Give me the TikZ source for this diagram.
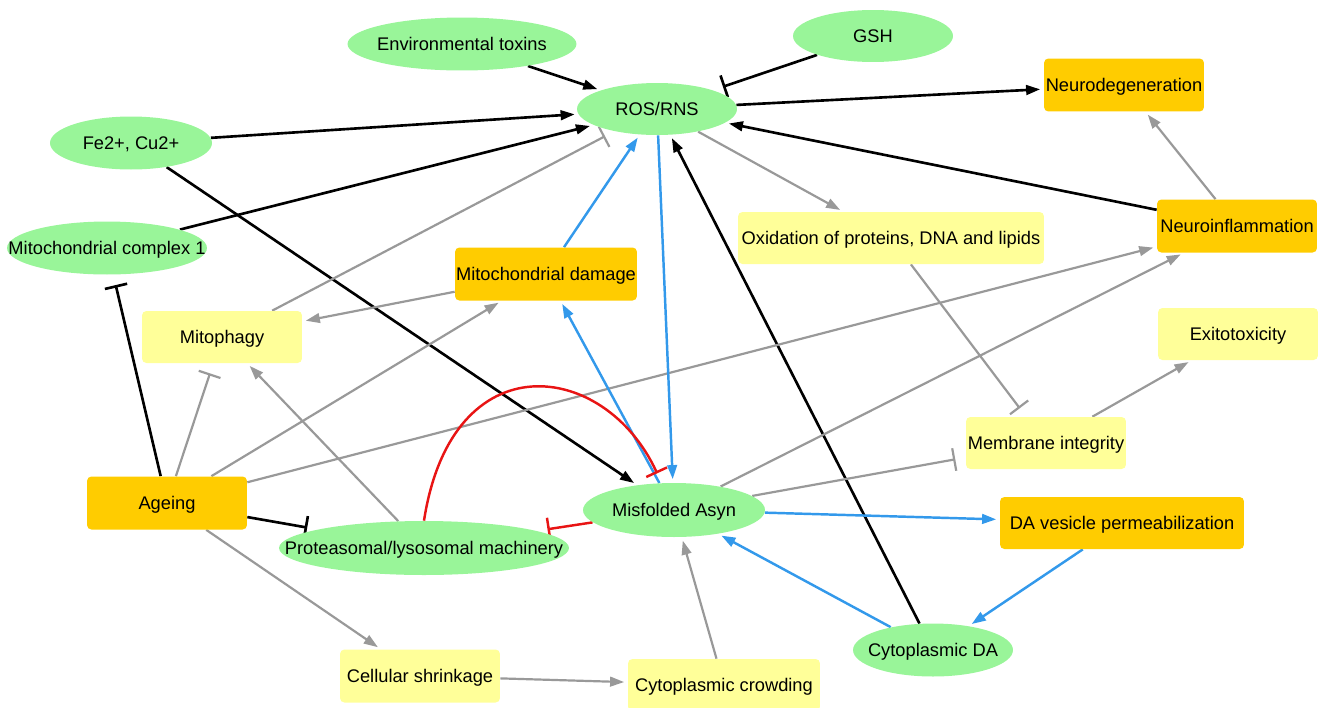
\documentclass[tikz,border=0pt]{standalone}
\usepackage{fontspec}
\setmainfont{Liberation Sans}
\usetikzlibrary{arrows.meta,shapes.geometric}
\pgfdeclarelayer{bg}
\pgfsetlayers{bg,main}
\definecolor{ngreen}{RGB}{153,245,153}
\definecolor{norange}{RGB}{255,204,0}
\definecolor{nyellow}{RGB}{255,255,153}
\definecolor{ngray}{RGB}{153,153,153}
\definecolor{nblue}{RGB}{51,153,235}
\definecolor{nred}{RGB}{232,20,20}
\newcommand{\mklbl}[1]{\makebox[0pt]{#1}}
\begin{document}
\begin{tikzpicture}[x=0.02cm,y=-0.02cm,
  every node/.style={font=\fontsize{10.4}{12}\selectfont, text=black, inner sep=0pt, text height=7.4pt, text depth=0pt},
  ell/.style={ellipse, fill=ngreen, minimum width=3.2cm, minimum height=1.06cm},
  obox/.style={rectangle, rounded corners=2.5pt, fill=norange, minimum width=3.2cm, minimum height=1.06cm},
  ybox/.style={rectangle, rounded corners=2.5pt, fill=nyellow, minimum width=3.2cm, minimum height=1.04cm},
  act/.style={-{Triangle[length=8pt,width=5.5pt]}, shorten >=2pt},
  inh/.style={-{Bar[width=13pt]}, shorten >=6pt},
  blk/.style={draw=black, line width=1.5pt},
  gry/.style={draw=ngray, line width=1.25pt},
  blu/.style={draw=nblue, line width=1.4pt},
  rd/.style={draw=nred, line width=1.4pt},
]
\useasboundingbox (0,0) rectangle (1322,707);

% ellipses
\node[ell, minimum width=4.58cm] (env) at (462,44) {\mklbl{Environmental toxins}};
\node[ell, minimum height=1.04cm] (gsh) at (873,36) {\mklbl{GSH}};
\node[ell, minimum height=1.04cm] (ros) at (657,109) {\mklbl{ROS/RNS}};
\node[ell, minimum width=3.24cm] (fe) at (131,143) {\mklbl{Fe2+, Cu2+}};
\node[ell, minimum width=4.0cm] (mc1) at (107,248) {\mklbl{Mitochondrial complex 1}};
\node[ell, minimum width=5.8cm, minimum height=1.08cm] (prot) at (424,548) {\mklbl{Proteasomal/lysosomal machinery}};
\node[ell, minimum width=3.64cm, minimum height=1.08cm] (misf) at (674,510) {\mklbl{Misfolded Asyn}};
\node[ell] (cda) at (933,650) {\mklbl{Cytoplasmic DA}};

% boxes
\node[obox] (ndeg) at (1124,85) {Neurodegeneration};
\node[obox] (ninf) at (1237,226) {Neuroinflammation};
\node[ybox, minimum width=6.12cm] (oxid) at (891,238) {Oxidation of proteins, DNA and lipids};
\node[obox, minimum width=3.64cm] (mitod) at (546,274) {Mitochondrial damage};
\node[ybox] (mitoph) at (222,337) {Mitophagy};
\node[ybox] (exito) at (1238,334) {Exitotoxicity};
\node[ybox] (memb) at (1046,443) {Membrane integrity};
\node[obox, minimum width=4.88cm, minimum height=1.04cm] (dav) at (1122,523) {DA vesicle permeabilization};
\node[obox] (age) at (167,503) {Ageing};
\node[ybox, minimum height=1.06cm] (shrink) at (420,676) {Cellular shrinkage};
\node[ybox, minimum width=3.84cm] (crowd) at (724,685) {Cytoplasmic crowding};

\begin{pgfonlayer}{bg}
% black
\draw[blk,act] (env) -- (ros);
\draw[blk,inh] (gsh) -- (ros);
\draw[blk,act] (ros) -- (ndeg);
\draw[blk,act] (fe) -- (ros);
\draw[blk,act] (mc1) -- (ros);
\draw[blk,act] (fe) -- (misf);
\draw[blk,inh] (age) -- (mc1);
\draw[blk,inh] (age) -- (prot);
\draw[blk,act] (cda) -- (ros);
\draw[blk,act] (ninf) -- (ros);
% gray
\draw[gry,act] (ros) -- (oxid);
\draw[gry,act] (ninf) -- (ndeg);
\draw[gry,inh] (mitoph) -- (ros);
\draw[gry,act] (mitod) -- (mitoph);
\draw[gry,act] (age) -- (mitod);
\draw[gry,inh] (age) -- (mitoph);
\draw[gry,act] (age) -- (ninf);
\draw[gry,act] (prot) -- (mitoph);
\draw[gry,act] (age) -- (shrink);
\draw[gry,act] (shrink) -- (crowd);
\draw[gry,act] (crowd) -- (misf);
\draw[gry,act] (misf) -- (ninf);
\draw[gry,inh] (misf) -- (memb);
\draw[gry,inh] (oxid) -- (memb);
\draw[gry,act] (memb) -- (exito);
% blue
\draw[blu,act] (mitod) -- (ros);
\draw[blu,act] (ros) -- (misf);
\draw[blu,act] (misf) -- (mitod);
\draw[blu,act] (misf) -- (dav);
\draw[blu,act] (dav) -- (cda);
\draw[blu,act] (cda) -- (misf);
% red
\draw[rd,inh] (prot.north) .. controls (452,340) and (605,360) .. (misf);
\draw[rd,inh] (misf) -- (prot);
\end{pgfonlayer}
\end{tikzpicture}
\end{document}
